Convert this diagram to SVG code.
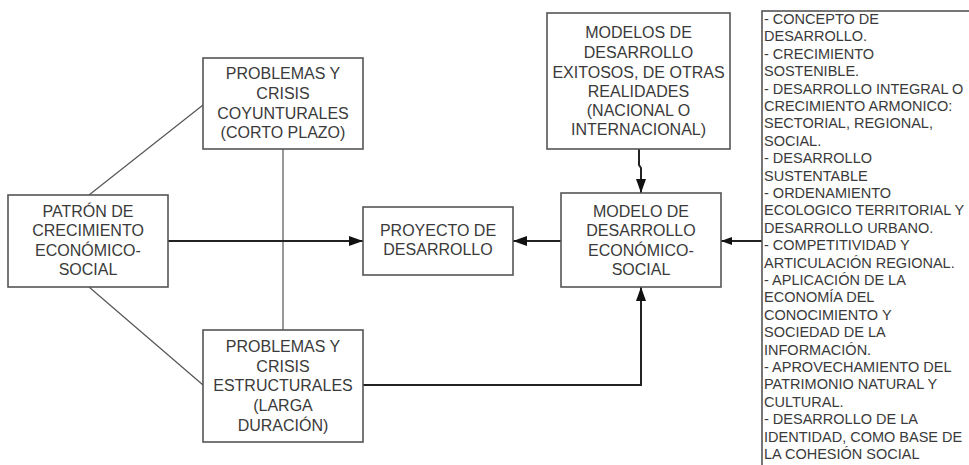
<svg xmlns="http://www.w3.org/2000/svg" width="969" height="465" viewBox="0 0 969 465">
<defs>
<style>
.box{fill:#fff;stroke:#555;stroke-width:1.6}
.t{font-family:"Liberation Sans",Arial,sans-serif;font-size:16px;fill:#3a3a3a;text-anchor:middle}
.l{font-family:"Liberation Sans",Arial,sans-serif;font-size:14.5px;fill:#3a3a3a}
.thin{fill:none;stroke:#555;stroke-width:1.2}
.arr{fill:none;stroke:#222;stroke-width:2}
</style>
<marker id="ah" markerWidth="14" markerHeight="10" refX="14" refY="5" orient="auto" markerUnits="userSpaceOnUse">
<path d="M0,0 L14,5 L0,10 Z" fill="#111"/>
</marker>
<marker id="ahs" markerWidth="11" markerHeight="8" refX="11" refY="4" orient="auto" markerUnits="userSpaceOnUse">
<path d="M0,0 L11,4 L0,8 Z" fill="#111"/>
</marker>
</defs>
<rect width="969" height="465" fill="#fff"/>
<g id="connectors">
<line class="thin" x1="89" y1="195" x2="203" y2="105"/>
<line class="thin" x1="89" y1="287" x2="203" y2="385"/>
<line class="thin" x1="283" y1="149" x2="283" y2="330"/>
<line class="arr" x1="168" y1="241" x2="363" y2="241" marker-end="url(#ah)"/>
<line class="arr" x1="561" y1="241" x2="513" y2="241" marker-end="url(#ah)"/>
<line class="arr" x1="762" y1="241" x2="721" y2="241" stroke-width="1.5" marker-end="url(#ahs)"/>
<polyline class="arr" points="639,149 639,165 641,168 641,193" marker-end="url(#ah)"/>
<polyline class="arr" points="363,385 641,385 641,287" marker-end="url(#ah)"/>
</g>
<g id="patron">
<rect class="box" x="8" y="195" width="160" height="92"/>
<text class="t" x="88" y="217">PATRÓN DE</text>
<text class="t" x="88" y="236">CRECIMIENTO</text>
<text class="t" x="88" y="256">ECONÓMICO-</text>
<text class="t" x="88" y="275">SOCIAL</text>
</g>
<g id="coyunturales">
<rect class="box" x="203" y="58" width="160" height="91"/>
<text class="t" x="283" y="79">PROBLEMAS Y</text>
<text class="t" x="283" y="99">CRISIS</text>
<text class="t" x="283" y="118.5">COYUNTURALES</text>
<text class="t" x="283" y="138">(CORTO PLAZO)</text>
</g>
<g id="estructurales">
<rect class="box" x="203" y="330" width="160" height="112"/>
<text class="t" x="283" y="352">PROBLEMAS Y</text>
<text class="t" x="283" y="372">CRISIS</text>
<text class="t" x="283" y="391">ESTRUCTURALES</text>
<text class="t" x="283" y="411">(LARGA</text>
<text class="t" x="283" y="431">DURACIÓN)</text>
</g>
<g id="proyecto">
<rect class="box" x="363" y="207" width="150" height="68"/>
<text class="t" x="438" y="236">PROYECTO DE</text>
<text class="t" x="438" y="255">DESARROLLO</text>
</g>
<g id="modelo">
<rect class="box" x="561" y="193" width="160" height="94"/>
<text class="t" x="641" y="217">MODELO DE</text>
<text class="t" x="641" y="236">DESARROLLO</text>
<text class="t" x="641" y="256">ECONÓMICO-</text>
<text class="t" x="641" y="275">SOCIAL</text>
</g>
<g id="modelos-exitosos">
<rect class="box" x="547" y="13" width="183" height="136"/>
<text class="t" x="638.5" y="38">MODELOS DE</text>
<text class="t" x="638.5" y="58">DESARROLLO</text>
<text class="t" x="638.5" y="77.5">EXITOSOS, DE OTRAS</text>
<text class="t" x="638.5" y="97">REALIDADES</text>
<text class="t" x="638.5" y="116">(NACIONAL O</text>
<text class="t" x="638.5" y="135">INTERNACIONAL)</text>
</g>
<g id="lista">
<rect class="box" x="762" y="11" width="300" height="500"/>
<text class="l" x="764" y="24">- CONCEPTO DE</text>
<text class="l" x="764" y="41.4">DESARROLLO.</text>
<text class="l" x="764" y="58.8">- CRECIMIENTO</text>
<text class="l" x="764" y="76.2">SOSTENIBLE.</text>
<text class="l" x="764" y="93.6">- DESARROLLO INTEGRAL O</text>
<text class="l" x="764" y="111">CRECIMIENTO ARMONICO:</text>
<text class="l" x="764" y="128.4">SECTORIAL, REGIONAL,</text>
<text class="l" x="764" y="145.8">SOCIAL.</text>
<text class="l" x="764" y="163.2">- DESARROLLO</text>
<text class="l" x="764" y="180.6">SUSTENTABLE</text>
<text class="l" x="764" y="198">- ORDENAMIENTO</text>
<text class="l" x="764" y="215.4">ECOLOGICO TERRITORIAL Y</text>
<text class="l" x="764" y="232.8">DESARROLLO URBANO.</text>
<text class="l" x="764" y="250.2">- COMPETITIVIDAD Y</text>
<text class="l" x="764" y="267.6">ARTICULACIÓN REGIONAL.</text>
<text class="l" x="764" y="285">- APLICACIÓN DE LA</text>
<text class="l" x="764" y="302.4">ECONOMÍA DEL</text>
<text class="l" x="764" y="319.8">CONOCIMIENTO Y</text>
<text class="l" x="764" y="337.2">SOCIEDAD DE LA</text>
<text class="l" x="764" y="354.6">INFORMACIÓN.</text>
<text class="l" x="764" y="372">- APROVECHAMIENTO DEL</text>
<text class="l" x="764" y="389.4">PATRIMONIO NATURAL Y</text>
<text class="l" x="764" y="406.8">CULTURAL.</text>
<text class="l" x="764" y="424.2">- DESARROLLO DE LA</text>
<text class="l" x="764" y="441.6">IDENTIDAD, COMO BASE DE</text>
<text class="l" x="764" y="459">LA COHESIÓN SOCIAL</text>
</g>
</svg>
